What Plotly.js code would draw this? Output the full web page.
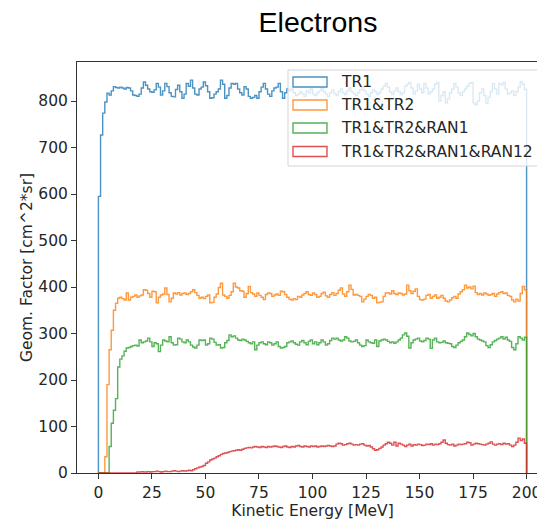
<!DOCTYPE html>
<html>
<head>
<meta charset="utf-8">
<script src="https://cdn.plot.ly/plotly-3.0.1.min.js"></script>
<style>
html,body{margin:0;padding:0;overflow:hidden;background:#fff;}
#chart{width:560px;height:520px;}
</style>
</head>
<body>
<div id="chart"></div>
<script>
// Histogram bins: 1 MeV wide, 0..200 MeV
const binStart = 0;
const binWidth = 1;

const seriesNames = ["TR1", "TR1&TR2", "TR1&TR2&RAN1", "TR1&TR2&RAN1&RAN12"];
const seriesColors = ["#1f77b4", "#ff7f0e", "#2ca02c", "#d62728"];

const tr1 = [
595,727,774,798,817,813,822,831,829,828,
830,828,826,829,828,822,813,812,810,815,
828,841,834,826,820,819,824,838,830,813,
822,838,831,818,810,809,825,834,820,806,
815,838,832,845,828,815,813,826,830,841,
833,820,806,807,815,820,826,845,836,806,
812,828,838,836,838,826,818,813,831,826,
810,806,808,812,806,820,830,838,826,815,
810,822,828,830,838,820,806,818,826,822,
826,818,812,815,820,816,810,822,818,826,
815,812,818,822,828,820,815,810,818,824,
816,812,820,826,818,814,822,828,820,816,
812,818,824,830,822,815,810,818,825,820,
814,818,826,832,838,830,820,814,822,828,
820,814,818,832,836,840,828,815,822,836,
826,818,838,828,815,820,826,836,840,800,
812,820,796,805,818,826,838,830,818,812,
820,826,832,838,840,796,792,800,818,826,
812,795,808,820,838,826,815,838,835,840,
826,815,818,822,812,820,830,842,836,825];

const tr1tr2 = [
0,0,0,35,190,265,307,350,365,376,
378,375,372,387,372,378,380,383,378,381,
383,394,393,386,378,391,390,366,378,383,
385,398,384,368,376,387,385,388,383,386,
387,384,386,390,394,388,382,376,378,375,
380,383,366,367,378,385,399,408,383,380,
376,382,390,408,400,398,392,391,378,386,
401,388,385,380,387,382,378,373,384,387,
386,380,383,385,382,391,390,384,378,374,
372,375,373,380,378,383,386,390,384,382,
387,384,378,380,386,389,381,378,384,388,
382,386,393,398,385,380,390,404,395,383,
384,382,380,368,374,380,384,382,376,378,
366,367,368,380,387,388,385,392,386,384,
387,386,383,385,404,392,386,391,396,380,
373,372,374,382,384,376,380,383,376,378,
382,376,370,368,372,377,380,376,385,390,
394,404,398,400,396,402,388,384,386,383,
387,385,382,384,386,380,385,388,390,386,
387,382,380,372,368,374,370,386,401,394];

const tr1tr2ran1 = [
0,0,0,0,0,57,107,135,160,228,
245,252,262,269,270,272,274,275,273,286,
280,282,284,290,282,272,280,278,261,275,
286,284,282,293,280,275,276,290,288,282,
280,286,282,275,271,269,275,286,285,286,
275,278,290,288,281,275,276,269,270,280,
285,297,293,295,290,286,285,288,286,283,
280,278,282,265,275,280,282,278,276,282,
280,275,278,282,272,269,270,272,280,282,
284,280,277,275,282,285,280,276,283,286,
278,282,276,280,286,282,275,278,285,290,
288,290,286,284,286,293,290,284,282,283,
286,280,275,272,274,286,282,280,279,286,
272,284,286,288,286,283,280,282,279,282,
286,290,297,301,294,269,280,286,288,290,
284,282,285,290,288,268,286,290,282,280,
281,284,280,279,278,272,270,275,280,283,
286,293,301,298,295,300,293,288,286,284,
282,274,270,276,282,285,288,290,293,288,
292,286,283,270,265,278,293,290,286,292];

const tr1tr2ran1ran12 = [
0,0,0,0,0,0,0,0,0,0,
0,0,0,0,0,0,0,0,2,2,
3,2,2,3,2,3,3,4,3,2,
3,4,3,3,4,5,4,3,4,5,
4,5,6,5,7,9,11,13,14,16,
21,24,28,30,32,35,37,40,42,43,
44,46,47,48,49,50,49,51,53,54,
55,54,56,57,56,55,57,56,55,57,
56,57,58,57,56,55,57,58,56,55,
57,56,58,59,57,56,58,57,56,58,
57,58,56,57,58,57,58,59,58,57,
58,62,64,63,60,61,63,64,62,60,
61,60,62,63,60,58,59,56,52,49,
50,53,56,60,63,66,64,60,66,58,
64,62,60,57,60,62,58,61,60,62,
61,59,60,62,61,63,60,62,61,63,
66,71,64,61,60,62,58,60,62,61,
62,63,66,65,60,62,64,63,62,61,
60,62,64,67,62,60,62,63,61,64,
62,63,60,57,60,66,75,70,73,64];

const xTicks = [0,25,50,75,100,125,150,175,200];
const yTicks = [0,100,200,300,400,500,600,700,800];

const allSeries = [tr1, tr1tr2, tr1tr2ran1, tr1tr2ran1ran12];

// matplotlib-style step outline: up from 0 at first edge, down to 0 at last edge
function stepXY(vals){
  const x = [binStart], y = [0];
  for (let i = 0; i < vals.length; i++){ x.push(binStart + i*binWidth); y.push(vals[i]); }
  x.push(binStart + vals.length*binWidth); y.push(0);
  return {x, y};
}

const traces = allSeries.map((vals, i) => {
  const s = stepXY(vals);
  return {
    type: 'scatter', mode: 'lines', x: s.x, y: s.y, name: seriesNames[i],
    line: {shape: 'hv', color: seriesColors[i], width: 1.4}, opacity: 0.8,
    showlegend: false, hoverinfo: 'skip'
  };
});

// plot-area geometry (px)
const W = 560, H = 520, L = 77, R = 12, T = 62, B = 47;
const pw = W - L - R, ph = H - T - B;
const px2x = p => (p - L) / pw;
const py2y = p => (H - B - p) / ph;

const shapes = [];
const annotations = [];
// legend frame
shapes.push({type:'rect', xref:'paper', yref:'paper', layer:'above',
  x0: px2x(288), x1: px2x(546), y0: py2y(166), y1: py2y(70),
  fillcolor:'rgba(255,255,255,0.8)', line:{color:'#d5d5d5', width:1}});
const rowY = [82, 105, 128, 151.5];
seriesNames.forEach((nm, i) => {
  shapes.push({type:'rect', xref:'paper', yref:'paper', layer:'above',
    x0: px2x(293), x1: px2x(327), y0: py2y(rowY[i]+5), y1: py2y(rowY[i]-5),
    fillcolor:'rgba(0,0,0,0)', opacity: 0.8, line:{color: seriesColors[i], width:1.4}});
  annotations.push({xref:'paper', yref:'paper', x: px2x(339), y: py2y(rowY[i]),
    xanchor:'left', yanchor:'middle', text: nm, showarrow:false,
    font:{family:'DejaVu Sans', size:15.5, color:'#262626'}});
});

const axisFont = {family:'DejaVu Sans', size:15.5, color:'#262626'};

const layout = {
  width: W, height: H,
  margin: {l: L, r: R, t: T, b: B, pad: 0},
  paper_bgcolor: '#fff', plot_bgcolor: '#fff',
  title: {text: 'Electrons', font: {family:'Liberation Sans', size: 28.5, color:'#000'},
    xref:'container', yref:'container', x: 318/W, y: 1 - 22/H, xanchor:'center', yanchor:'middle'},
  xaxis: {
    range: [-10, 210], tickvals: xTicks, ticktext: xTicks.map(String),
    showgrid: false, zeroline: false, showline: true, mirror: true,
    linecolor: '#333', linewidth: 1, ticks: 'outside', ticklen: 5, tickcolor: '#333',
    tickfont: axisFont,
    title: {text: 'Kinetic Energy [MeV]', font: axisFont, standoff: 3}
  },
  yaxis: {
    range: [0, 884], tickvals: yTicks, ticktext: yTicks.map(String),
    showgrid: false, zeroline: false, showline: true, mirror: true,
    linecolor: '#333', linewidth: 1, ticks: 'outside', ticklen: 5, tickcolor: '#333',
    tickfont: axisFont,
    title: {text: 'Geom. Factor [cm^2*sr]', font: axisFont, standoff: 1}
  },
  shapes: shapes,
  annotations: annotations
};

Plotly.newPlot('chart', traces, layout, {displayModeBar: false, staticPlot: true});
</script>
</body>
</html>
